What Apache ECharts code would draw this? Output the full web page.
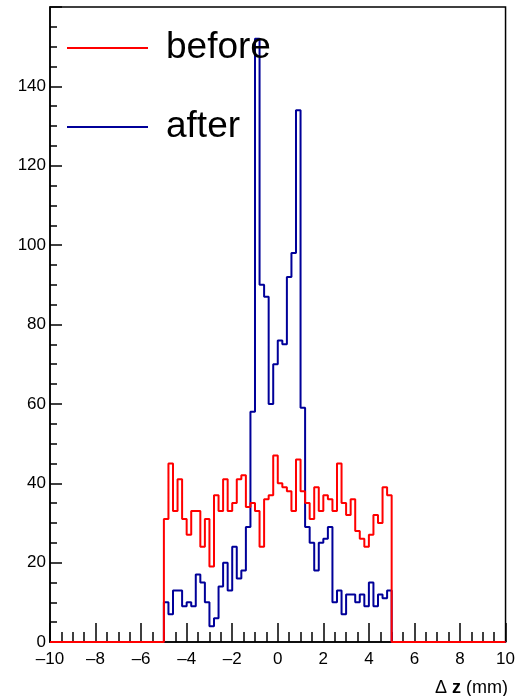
<!DOCTYPE html>
<html lang="en">
<head>
    <meta charset="UTF-8">
    <title>before / after</title>
    <script src="https://cdn.jsdelivr.net/npm/echarts@6/dist/echarts.min.js"></script>
    <style>
        html, body { margin: 0; padding: 0; background: #fff; }
        #chart { width: 518px; height: 696px; }
    </style>
</head>
<body>
<div id="chart"></div>
<script>
    'use strict';
    // histogram: 50 bins of 0.2 mm from -5 to 5, empty elsewhere in [-10, 10]
    let binLow = -5;
    let binWidth = 0.2;
    let rangeMin = -10;
    let rangeMax = 10;
    let beforeCounts = [31, 45, 33, 41, 31, 27, 33, 33, 24, 31,
                        19, 37, 33, 41, 33, 35, 41, 42, 34, 35,
                        33, 24, 36, 37, 47, 40, 39, 38, 33, 46,
                        38, 35, 31, 39, 33, 37, 36, 33, 45, 35,
                        32, 36, 28, 26, 24, 27, 32, 30, 39, 37];
    let afterCounts = [10, 7, 13, 13, 9, 10, 9, 17, 15, 10,
                       4, 6, 14, 20, 13, 24, 16, 18, 29, 58,
                       152, 90, 87, 60, 70, 76, 75, 92, 98, 134,
                       59, 29, 25, 18, 25, 26, 29, 10, 13, 7,
                       12, 12, 10, 12, 9, 15, 9, 12, 11, 13];
    let xTicks = [-10, -8, -6, -4, -2, 0, 2, 4, 6, 8, 10];
    let yTicks = [0, 20, 40, 60, 80, 100, 120, 140];

    // step points at the bin lower edges, closed down to zero at both ends
    function steps(counts) {
        let pts = [[rangeMin, 0]];
        for (let i = 0; i < counts.length; i++) {
            pts.push([+(binLow + i * binWidth).toFixed(1), counts[i]]);
        }
        pts.push([+(binLow + counts.length * binWidth).toFixed(1), 0]);
        pts.push([rangeMax, 0]);
        return pts;
    }

    let font = "'Liberation Sans', Arial, sans-serif";
    let chart = echarts.init(document.getElementById('chart'));
    let option = {
        animation: false,
        backgroundColor: '#fff',
        grid: {
            left: 50, right: 10, top: 7, bottom: 54,
            show: true, borderColor: '#000', borderWidth: 1.5,
            backgroundColor: 'transparent'
        },
        title: {
            text: '{a|\u0394 }{b|z}{a| (mm)}',
            right: 10, top: 679, padding: 0,
            textStyle: {
                fontWeight: 'normal',
                rich: {
                    a: { fontFamily: font, fontSize: 18, fontWeight: 'normal', color: '#000' },
                    b: { fontFamily: font, fontSize: 18, fontWeight: 'bold', color: '#000' }
                }
            }
        },
        legend: {
            orient: 'vertical',
            left: 67, top: 28, padding: 0,
            itemWidth: 81, itemHeight: 2, itemGap: 39,
            icon: 'rect',
            textStyle: {
                fontFamily: font, fontSize: 37, color: '#000',
                lineHeight: 40, padding: [0, 0, 0, 13]
            },
            data: ['before', 'after']
        },
        xAxis: {
            type: 'value',
            min: rangeMin, max: rangeMax, interval: 2,
            axisLine: { onZero: false, lineStyle: { color: '#000', width: 1.5 } },
            axisTick: { inside: true, length: 19, lineStyle: { color: '#000', width: 1.5 } },
            minorTick: { show: true, splitNumber: 4, length: 10, lineStyle: { color: '#000', width: 1.5 } },
            splitLine: { show: false },
            axisLabel: {
                margin: 9, fontFamily: font, fontSize: 17, color: '#000',
                formatter: function (v) {
                    return xTicks.indexOf(v) >= 0 ? String(v).replace('-', '\u2013') : '';
                }
            }
        },
        yAxis: {
            type: 'value',
            min: 0, max: 160, interval: 20,
            axisLine: { onZero: false, lineStyle: { color: '#000', width: 1.5 } },
            axisTick: { inside: true, length: 12, lineStyle: { color: '#000', width: 1.5 } },
            minorTick: { show: true, splitNumber: 4, length: 7, lineStyle: { color: '#000', width: 1.5 } },
            splitLine: { show: false },
            axisLabel: {
                margin: 4, fontFamily: font, fontSize: 17, color: '#000',
                formatter: function (v) {
                    return yTicks.indexOf(v) >= 0 ? String(v) : '';
                }
            }
        },
        series: [
            {
                name: 'after',
                type: 'line',
                step: 'end',
                showSymbol: false,
                clip: false,
                color: '#000099',
                lineStyle: { color: '#000099', width: 2 },
                data: steps(afterCounts),
                z: 3
            },
            {
                name: 'before',
                type: 'line',
                step: 'end',
                showSymbol: false,
                clip: false,
                color: '#ff0000',
                lineStyle: { color: '#ff0000', width: 2 },
                data: steps(beforeCounts),
                z: 4
            }
        ]
    };
    chart.setOption(option);
</script>
</body>
</html>
